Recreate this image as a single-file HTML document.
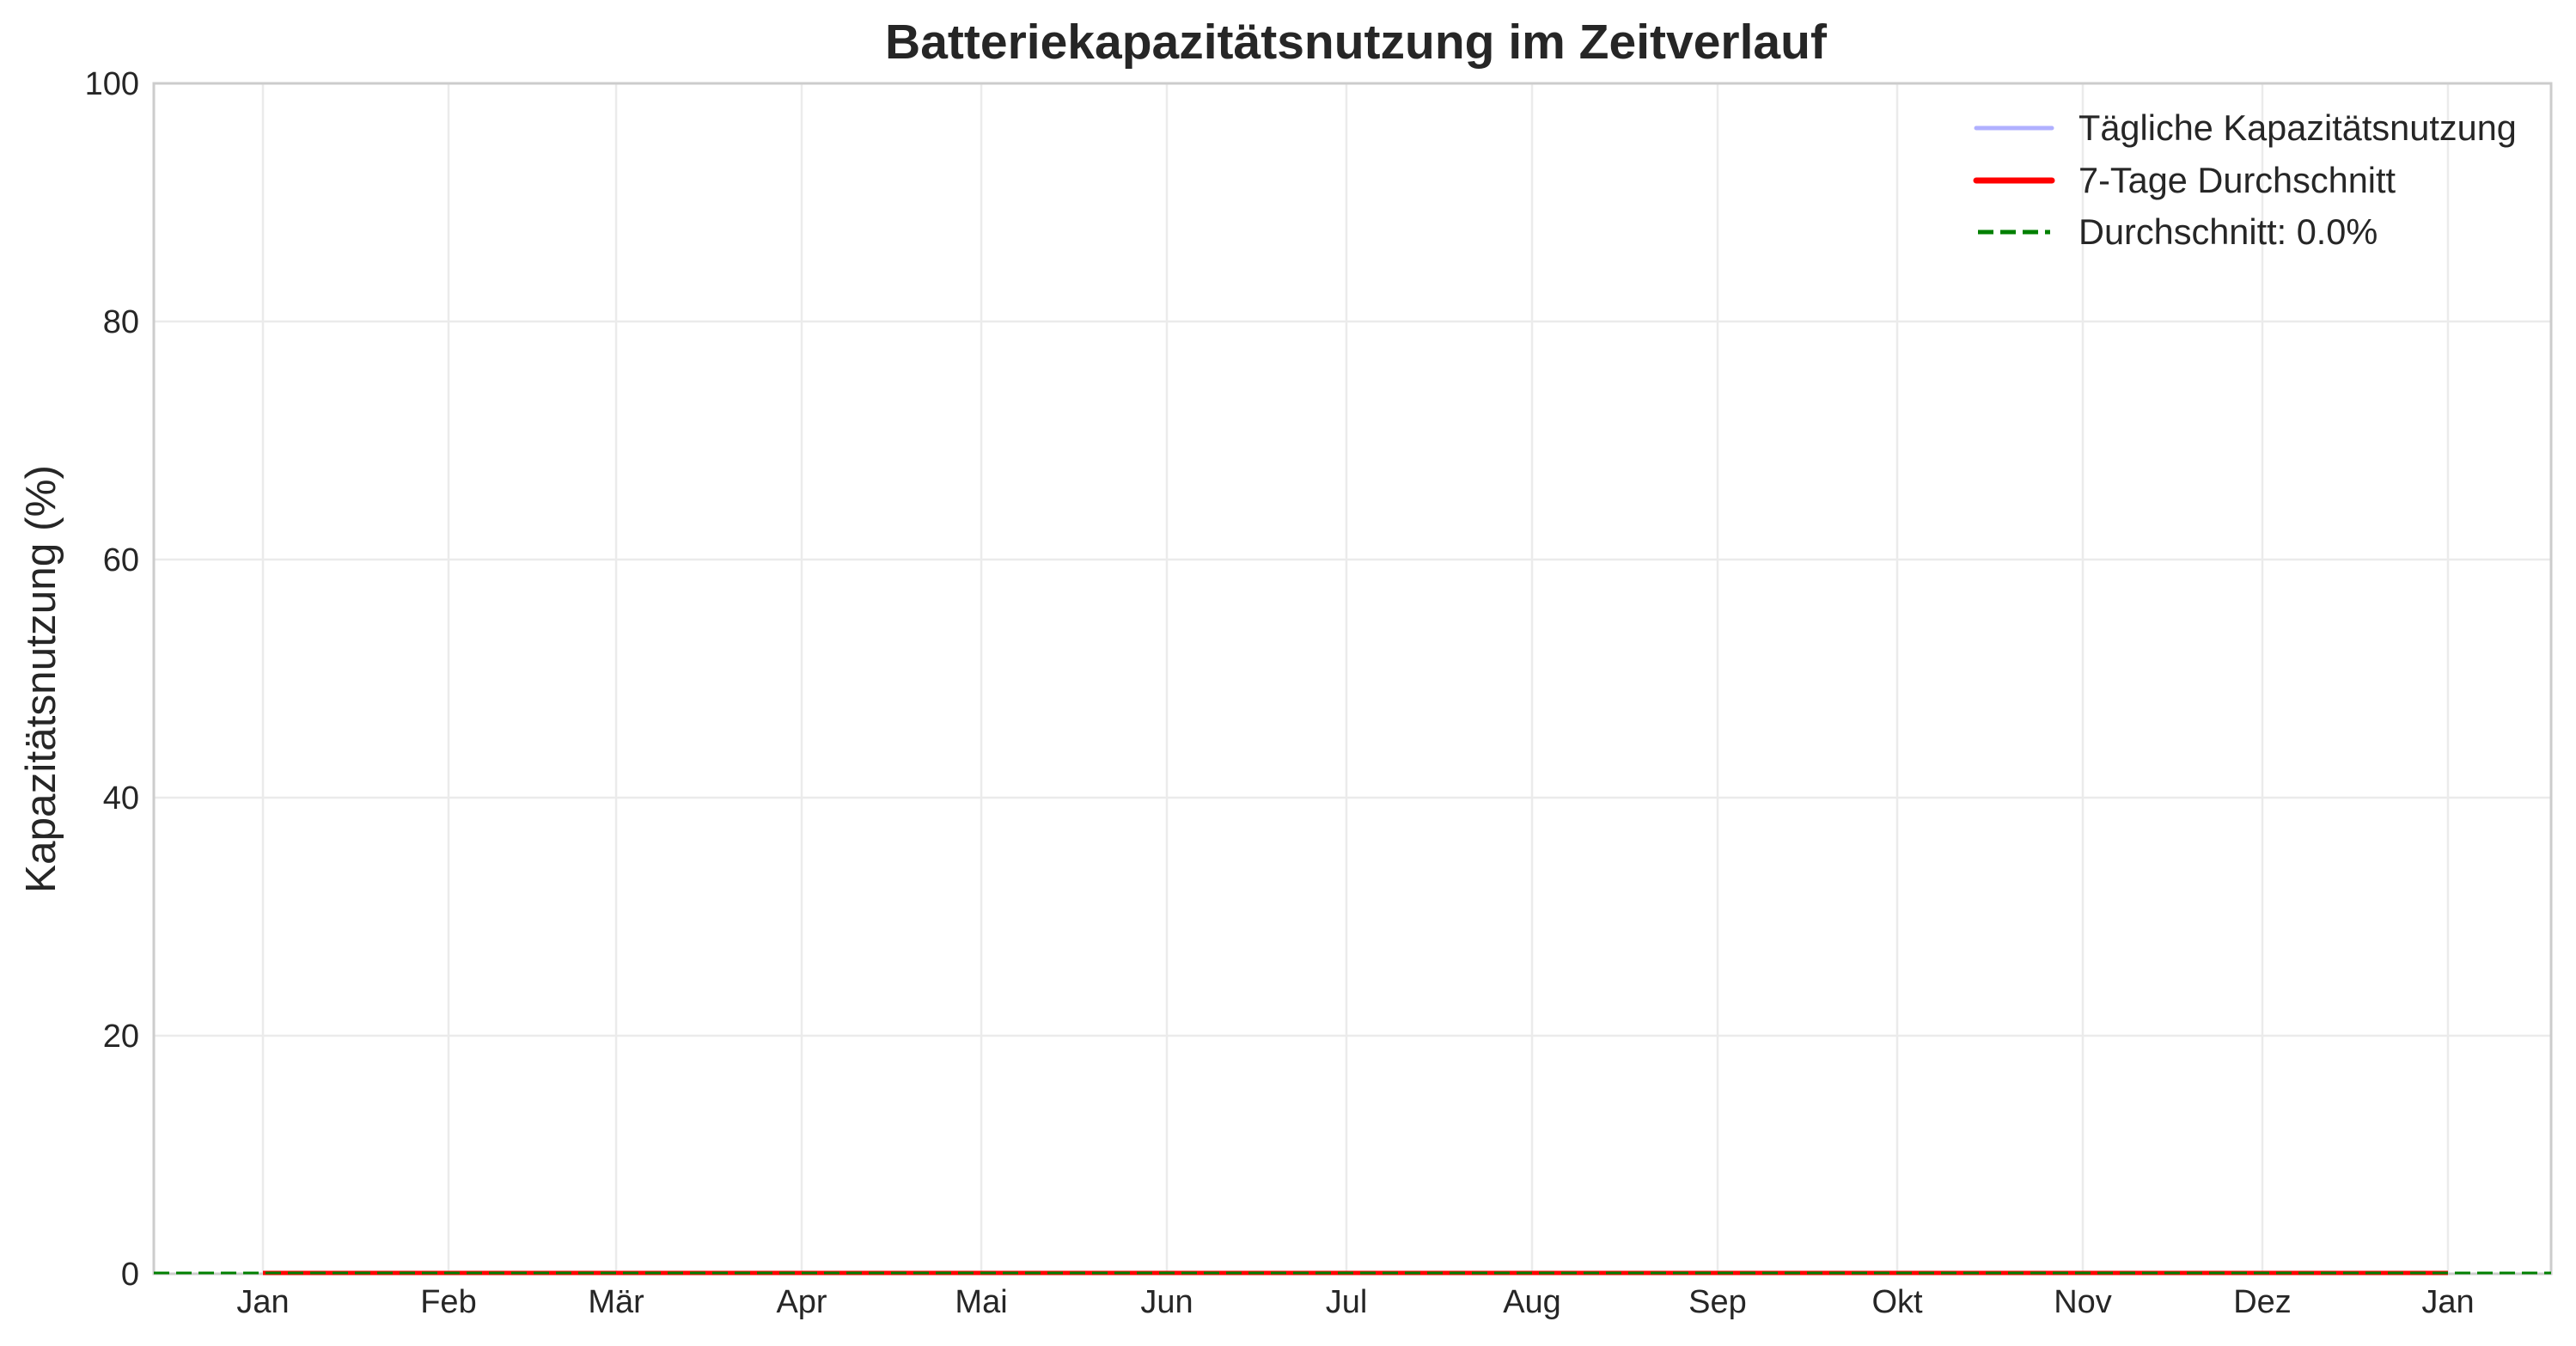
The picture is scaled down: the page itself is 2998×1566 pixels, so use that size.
<!DOCTYPE html>
<html><head><meta charset="utf-8"><style>
html,body{margin:0;padding:0;background:#fff;}
svg{display:block;font-family:"Liberation Sans",sans-serif;}
</style></head><body>
<svg id="chart" width="2998" height="1566" viewBox="0 0 2998 1566" xmlns="http://www.w3.org/2000/svg">
<text x="1578" y="68" text-anchor="middle" font-size="57" font-weight="bold" fill="#262626">Batteriekapazitätsnutzung im Zeitverlauf</text>
<g id="grid"></g>
<rect x="179" y="97" width="2790" height="1385" fill="none" stroke="#cccccc" stroke-width="3"/>
<g id="series"></g>
<g id="ticks"></g>
<text transform="translate(64,790) rotate(-90)" text-anchor="middle" font-size="49.5" fill="#262626">Kapazitätsnutzung (%)</text>
<g>
<g>
<line x1="2300" y1="149" x2="2388" y2="149" stroke="#b0b0ff" stroke-width="5" stroke-linecap="round"/>
<text x="2419" y="163" font-size="41.5" fill="#262626">Tägliche Kapazitätsnutzung</text></g>
<g>
<line x1="2300" y1="210" x2="2388" y2="210" stroke="#ff0000" stroke-width="7" stroke-linecap="round"/>
<text x="2419" y="224" font-size="41.5" fill="#262626">7-Tage Durchschnitt</text></g>
<g>
<line x1="2302" y1="270" x2="2386" y2="270" stroke="#008000" stroke-width="5" stroke-dasharray="18,8"/>
<text x="2419" y="284" font-size="41.5" fill="#262626">Durchschnitt: 0.0%</text></g>
</g>
</svg>
<script>
const monthLabels=["Jan","Feb","Mär","Apr","Mai","Jun","Jul","Aug","Sep","Okt","Nov","Dez","Jan"];
const monthDays=[0,31,59,90,120,151,181,212,243,273,304,334,365];
const yTicks=[0,20,40,60,80,100];
const dailyUsage=[
0,0,0,0,0,0,0,0,0,0,
0,0,0,0,0,0,0,0,0,0,
0,0,0,0,0,0,0,0,0,0,
0,0,0,0,0,0,0,0,0,0,
0,0,0,0,0,0,0,0,0,0,
0,0,0,0,0,0,0,0,0,0,
0,0,0,0,0,0,0,0,0,0,
0,0,0,0,0,0,0,0,0,0,
0,0,0,0,0,0,0,0,0,0,
0,0,0,0,0,0,0,0,0,0,
0,0,0,0,0,0,0,0,0,0,
0,0,0,0,0,0,0,0,0,0,
0,0,0,0,0,0,0,0,0,0,
0,0,0,0,0,0,0,0,0,0,
0,0,0,0,0,0,0,0,0,0,
0,0,0,0,0,0,0,0,0,0,
0,0,0,0,0,0,0,0,0,0,
0,0,0,0,0,0,0,0,0,0,
0,0,0,0,0,0,0,0,0,0,
0,0,0,0,0,0,0,0,0,0,
0,0,0,0,0,0,0,0,0,0,
0,0,0,0,0,0,0,0,0,0,
0,0,0,0,0,0,0,0,0,0,
0,0,0,0,0,0,0,0,0,0,
0,0,0,0,0,0,0,0,0,0,
0,0,0,0,0,0,0,0,0,0,
0,0,0,0,0,0,0,0,0,0,
0,0,0,0,0,0,0,0,0,0,
0,0,0,0,0,0,0,0,0,0,
0,0,0,0,0,0,0,0,0,0,
0,0,0,0,0,0,0,0,0,0,
0,0,0,0,0,0,0,0,0,0,
0,0,0,0,0,0,0,0,0,0,
0,0,0,0,0,0,0,0,0,0,
0,0,0,0,0,0,0,0,0,0,
0,0,0,0,0,0,0,0,0,0,
0,0,0,0,0,0];
const meanValue=[0.0];

const NS="http://www.w3.org/2000/svg";
const L=179,R=2969,T=97,B=1482;
const span=365;
const dMin=-0.04994*span,dMax=1.0472*span;
function xs(d){return L+(d-dMin)/(dMax-dMin)*(R-L);}
function ys(v){return B-v/100*(B-T);}
function mk(tag,attrs,parent){const e=document.createElementNS(NS,tag);for(const k in attrs)e.setAttribute(k,attrs[k]);parent.appendChild(e);return e;}
const grid=document.getElementById('grid'),ticks=document.getElementById('ticks'),series=document.getElementById('series');
yTicks.forEach(v=>{
  const g=mk('line',{x1:L,x2:R,y1:ys(v),y2:ys(v),stroke:'#ebebeb','stroke-width':2.5},grid);
  
  
  const t=mk('text',{x:L-17,y:ys(v)+13,'text-anchor':'end','font-size':38,fill:'#262626'},ticks);
  t.textContent=v;
  
  
});
monthDays.forEach((d,i)=>{
  const g=mk('line',{x1:xs(d),x2:xs(d),y1:T,y2:B,stroke:'#ebebeb','stroke-width':2.5},grid);
  
  
  const t=mk('text',{x:xs(d),y:1527,'text-anchor':'middle','font-size':38,fill:'#262626'},ticks);
  t.textContent=monthLabels[i];
  
  
});
function path(vals){return vals.map((v,i)=>(i?'L':'M')+xs(i).toFixed(2)+','+(ys(v)-1).toFixed(2)).join(' ');}
const rolling=dailyUsage.map((v,i)=>{const s=dailyUsage.slice(Math.max(0,i-6),i+1);return s.reduce((a,b)=>a+b,0)/s.length;});
const p1=mk('path',{d:path(dailyUsage),fill:'none',stroke:'#b0b0ff','stroke-width':4},series);


const p2=mk('path',{d:path(rolling),fill:'none',stroke:'#ff0000','stroke-width':5},series);


const p3=mk('line',{x1:L,x2:R,y1:ys(meanValue[0])-1,y2:ys(meanValue[0])-1,stroke:'#008000','stroke-width':3,'stroke-dasharray':'18,8'},series);


</script>
</body></html>
